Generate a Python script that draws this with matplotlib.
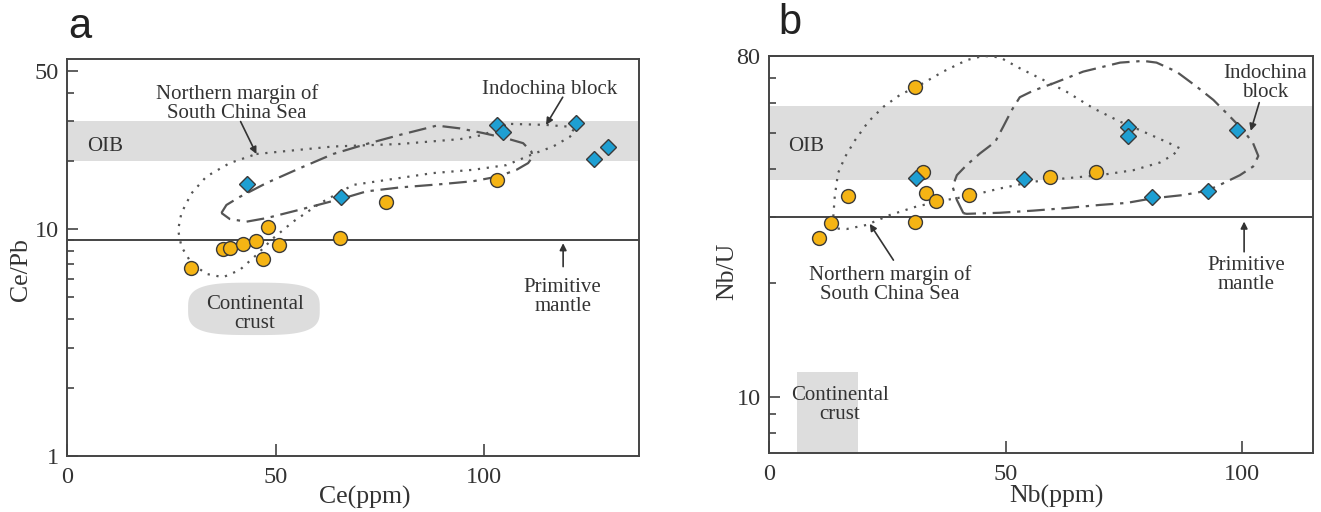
import numpy as np
import matplotlib.pyplot as plt
from matplotlib.ticker import FixedLocator, NullFormatter

plt.rcParams['font.family'] = ['Liberation Serif', 'DejaVu Serif']

# ---- panel a: Ce vs Ce/Pb ----
ce_orange = [29.7, 37.3, 39.0, 42.2, 45.3, 47.0, 48.1, 50.9, 65.4, 76.4, 103.2]
cepb_orange = [6.77, 8.18, 8.24, 8.58, 8.88, 7.39, 10.27, 8.53, 9.12, 13.24, 16.5]
ce_blue = [43.1, 65.6, 103.2, 104.5, 122.0, 129.7, 126.4]
cepb_blue = [15.8, 13.85, 28.9, 26.8, 29.6, 23.0, 20.4]

# Northern margin of South China Sea field (dotted)
scs_a_x = [45.4, 63.8, 79.8, 94.2, 99.8, 106.2, 114.9, 120.2, 121.8, 120.6, 116.6, 111.8,
           105.4, 97.3, 87.7, 68.6, 60.6, 54.2, 49.4, 45.4, 41.4, 37.4, 33.4, 29.8,
           27.4, 26.6, 27.4, 29.8, 33.4, 39.0]
scs_a_y = [21.5, 23.2, 23.8, 25.0, 26.1, 29.2, 28.9, 28.4, 27.0, 25.6, 23.2, 21.5,
           19.2, 18.3, 17.7, 15.7, 13.0, 10.8, 9.12, 7.70, 6.61, 6.14, 6.35, 7.08,
           8.38, 9.93, 11.8, 14.4, 17.1, 19.6]
# Indochina block field (dash-dot)
ind_a_x = [37.0, 38.2, 41.4, 47.8, 55.8, 63.8, 71.8, 79.8, 88.7, 94.2, 99.8, 105.4,
           109.4, 111.4, 111.7, 110.6, 107.8, 103.4, 97.4, 89.4, 79.8, 71.8, 66.2,
           55.8, 47.8, 43.0, 39.0]
ind_a_y = [11.8, 12.8, 13.9, 16.0, 18.6, 21.5, 23.8, 26.1, 28.7, 27.9, 26.6, 25.2,
           24.0, 22.0, 20.9, 19.6, 18.3, 17.1, 16.3, 15.8, 15.3, 14.7, 13.7,
           12.2, 11.2, 10.8, 11.1]

oib_cepb = (20, 30)
pm_cepb = 9
crust_ce = (29.0, 60.6)
crust_cepb = (3.41, 5.81)

# ---- panel b: Nb vs Nb/U ----
nb_orange = [30.8, 32.5, 16.6, 33.1, 35.3, 42.3, 59.4, 69.2, 30.8, 13.2, 10.6]
nbu_orange = [66.0, 39.3, 34.1, 34.6, 32.9, 34.3, 38.2, 39.3, 29.1, 28.8, 26.4]
nb_blue = [31.1, 53.8, 75.8, 75.9, 80.9, 98.8, 92.7]
nbu_blue = [37.9, 37.7, 51.7, 49.1, 33.7, 50.8, 35.1]

scs_b_x = [13.6, 13.9, 14.6, 16.1, 18.2, 21.0, 24.2, 27.7, 31.9, 36.8, 41.8, 45.3,
           48.8, 53.0, 58.0, 62.9, 68.5, 74.2, 78.4, 84.0, 86.8, 85.4, 82.6, 77.0,
           69.9, 62.9, 55.8, 48.8, 41.8, 37.5, 31.2, 25.6, 20.6, 16.4, 13.9, 13.2]
scs_b_y = [30.0, 33.9, 39.1, 43.2, 47.8, 53.5, 58.6, 63.0, 66.9, 72.6, 77.9, 79.9,
           79.2, 74.1, 69.0, 64.2, 58.1, 53.5, 50.8, 47.3, 45.5, 43.7, 41.7, 39.8,
           38.6, 37.9, 37.1, 35.6, 33.9, 33.2, 31.9, 30.3, 28.5, 27.8, 27.9, 29.1]
ind_b_x = [41.1, 39.7, 38.8, 39.7, 41.8, 44.6, 47.8, 49.5, 51.3, 53.0, 55.8, 60.1,
           66.4, 74.2, 79.1, 81.9, 86.1, 90.4, 93.9, 97.4, 100.2, 102.3, 103.4, 102.3,
           99.5, 95.3, 92.5, 87.5, 80.9, 75.6, 69.9, 62.9, 55.8, 48.8, 41.8]
ind_b_y = [30.6, 33.2, 36.0, 38.6, 41.1, 44.1, 47.3, 51.9, 57.4, 62.1, 64.6, 67.6,
           72.6, 76.7, 77.5, 76.7, 72.6, 66.2, 61.1, 55.2, 50.8, 46.9, 43.4, 40.7,
           38.6, 36.4, 35.1, 34.2, 33.5, 32.6, 32.2, 31.6, 31.1, 30.7, 30.5]

oib_nbu = (37.5, 59)
pm_nbu = 30
crust_nb = (5.85, 18.9)
crust_nbu_top = 11.6

TXT = '#333333'
AX = '#444444'
BAND = '#dddddd'
ORANGE = '#f5b414'
BLUE = '#1e9fd2'
LINE = '#555555'
FS_NOTE = 15

fig = plt.figure(figsize=(13.21, 5.12), dpi=100)
ax_a = fig.add_axes([0.0509, 0.110, 0.4328, 0.7748])
ax_b = fig.add_axes([0.5821, 0.1146, 0.4120, 0.7766])


def style(ax):
    for s in ax.spines.values():
        s.set_color(AX)
        s.set_linewidth(1.4)
    ax.tick_params(which='both', direction='in', colors=AX, labelcolor=TXT,
                   labelsize=17.5, top=False, right=False)
    ax.tick_params(axis='y', which='major', length=8, width=1.2, pad=6)
    ax.tick_params(axis='y', which='minor', length=5, width=1.2)
    ax.tick_params(axis='x', which='major', length=9, width=1.2, pad=8)


def draw_points(ax, xo, yo, xb, yb):
    ax.plot(xo, yo, 'o', ms=10, mfc=ORANGE, mec='#3a3a3a', mew=1, zorder=5)
    ax.plot(xb, yb, 'D', ms=8, mfc=BLUE, mec='#3a3a3a', mew=1, zorder=6)


def draw_field(ax, xs, ys, ls):
    ax.plot(list(xs) + [xs[0]], list(ys) + [ys[0]], color=LINE, lw=1.6, ls=ls, zorder=3)


def arrow(ax, tail, tip):
    ax.annotate('', xy=tip, xytext=tail,
                arrowprops=dict(arrowstyle='-|>', color=TXT, lw=1.2, mutation_scale=10,
                                shrinkA=0, shrinkB=0), zorder=7)


dotted = (0, (1, 3))
dashdot = (0, (8, 3, 1.5, 3))

# ---------- panel a ----------
ax = ax_a
ax.set_yscale('log')
ax.set_xlim(0, 137.2)
ax.set_ylim(1, 56.5)
ax.axhspan(*oib_cepb, color=BAND, lw=0, zorder=0)
ax.axhline(pm_cepb, color=AX, lw=1.4, zorder=2)

# continental crust blob (rounded shape in log space)
t = np.linspace(0, 2 * np.pi, 120)
cx = np.mean(crust_ce)
hw = (crust_ce[1] - crust_ce[0]) / 2
cly = np.mean(np.log10(crust_cepb))
hh = (np.log10(crust_cepb[1]) - np.log10(crust_cepb[0])) / 2
bx = cx + hw * np.sign(np.cos(t)) * np.abs(np.cos(t)) ** 0.6
by = 10 ** (cly + hh * np.sign(np.sin(t)) * np.abs(np.sin(t)) ** 0.6)
ax.fill(bx, by, color=BAND, lw=0, zorder=1)

draw_field(ax, scs_a_x, scs_a_y, dotted)
draw_field(ax, ind_a_x, ind_a_y, dashdot)
draw_points(ax, ce_orange, cepb_orange, ce_blue, cepb_blue)

ax.set_xticks([0, 50, 100])
ax.set_xticklabels(['0', '50', '100'])
ax.yaxis.set_major_locator(FixedLocator([1, 10, 50]))
ax.set_yticklabels(['1', '10', '50'])
ax.yaxis.set_minor_locator(FixedLocator([2, 3, 4, 5, 6, 7, 8, 9, 20, 30, 40]))
ax.yaxis.set_minor_formatter(NullFormatter())
style(ax)
ax.set_xlabel('Ce(ppm)', fontsize=18.5, color=TXT)
ax.set_ylabel('Ce/Pb', fontsize=18.5, color=TXT)
ax.xaxis.set_label_coords(0.52, -0.075)
ax.yaxis.set_label_coords(-0.062, 0.468)

ax.text(4.8, 23.3, 'OIB', fontsize=FS_NOTE, color=TXT, ha='left', va='center')
ax.text(40.7, 35.8, 'Northern margin of\nSouth China Sea', fontsize=FS_NOTE, color=TXT,
        ha='center', va='center', linespacing=1.0)
arrow(ax, (41.6, 29.9), (45.4, 21.5))
ax.text(115.8, 41.5, 'Indochina block', fontsize=FS_NOTE, color=TXT, ha='center', va='center')
arrow(ax, (118.9, 38.3), (114.9, 28.9))
ax.text(118.9, 5.02, 'Primitive\nmantle', fontsize=FS_NOTE, color=TXT, ha='center',
        va='center', linespacing=1.0)
arrow(ax, (119.0, 6.84), (119.0, 8.68))
ax.text(45.0, 4.23, 'Continental\ncrust', fontsize=FS_NOTE, color=TXT, ha='center',
        va='center', linespacing=1.0)
ax.text(0.022, 1.081, 'a', transform=ax.transAxes, fontsize=30, color='#222222',
        family='Liberation Sans', ha='center', va='center')

# ---------- panel b ----------
ax = ax_b
ax.set_yscale('log')
ax.set_xlim(0, 115)
ax.set_ylim(7.08, 80)
ax.axhspan(*oib_nbu, color=BAND, lw=0, zorder=0)
ax.axhline(pm_nbu, color=AX, lw=1.4, zorder=2)
ax.fill_between(crust_nb, 1, crust_nbu_top, color=BAND, lw=0, zorder=1)

draw_field(ax, scs_b_x, scs_b_y, dotted)
draw_field(ax, ind_b_x, ind_b_y, dashdot)
draw_points(ax, nb_orange, nbu_orange, nb_blue, nbu_blue)

ax.set_xticks([0, 50, 100])
ax.set_xticklabels(['0', '50', '100'])
ax.yaxis.set_major_locator(FixedLocator([10, 80]))
ax.set_yticklabels(['10', '80'])
ax.yaxis.set_minor_locator(FixedLocator([8, 9, 20, 30, 40, 50, 60, 70]))
ax.yaxis.set_minor_formatter(NullFormatter())
style(ax)
ax.set_xlabel('Nb(ppm)', fontsize=18.5, color=TXT)
ax.set_ylabel('Nb/U', fontsize=18.5, color=TXT)
ax.xaxis.set_label_coords(0.528, -0.079)
ax.yaxis.set_label_coords(-0.057, 0.459)

ax.text(4.1, 46.1, 'OIB', fontsize=FS_NOTE, color=TXT, ha='left', va='center')
ax.text(25.6, 19.8, 'Northern margin of\nSouth China Sea', fontsize=FS_NOTE, color=TXT,
        ha='center', va='center', linespacing=1.0)
arrow(ax, (26.3, 23.0), (21.3, 28.7))
ax.text(104.8, 67.7, 'Indochina\nblock', fontsize=FS_NOTE, color=TXT, ha='center',
        va='center', linespacing=1.0)
arrow(ax, (103.6, 60.1), (101.8, 50.6))
ax.text(100.9, 21.0, 'Primitive\nmantle', fontsize=FS_NOTE, color=TXT, ha='center',
        va='center', linespacing=1.0)
arrow(ax, (100.4, 24.2), (100.4, 29.1))
ax.text(15.0, 9.48, 'Continental\ncrust', fontsize=FS_NOTE, color=TXT, ha='center',
        va='center', linespacing=1.0)
ax.text(0.0386, 1.082, 'b', transform=ax.transAxes, fontsize=30, color='#222222',
        family='Liberation Sans', ha='center', va='center')

fig.savefig('out.png', dpi=100)
